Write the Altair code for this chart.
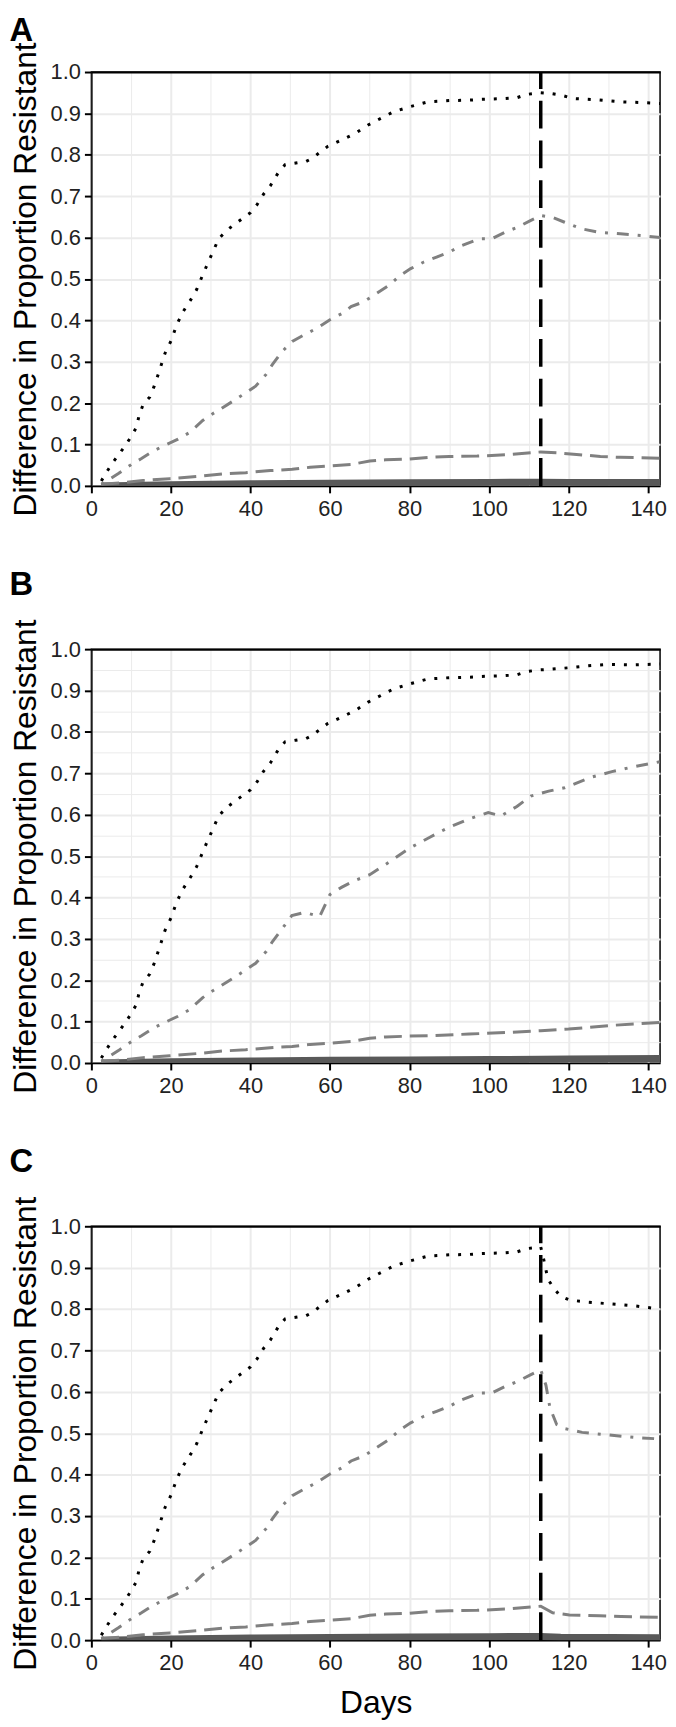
import altair as alt
import pandas as pd

# ---------------- data ----------------
# Dotted black series (panels A & C share the first 113 days; B very close)
dotted_days_early = [2.5, 4, 5.5, 7, 8.7, 10, 11.3, 12, 13, 14.7, 15.8, 17, 18.5, 20, 21.5,
                     23, 25, 26.5, 28, 29.6, 31, 32, 34, 36, 38, 40, 41.7, 43.3, 45, 47,
                     48.7, 51.4, 54, 55.6, 57.2, 59.4, 63, 66.4, 69.6, 72.8, 76, 80, 84.6,
                     90, 95, 98, 101, 104, 107, 109.5, 113]
dotted_vals_early = [0.012, 0.036, 0.058, 0.077, 0.100, 0.119, 0.141, 0.170, 0.196, 0.215,
                     0.241, 0.275, 0.320, 0.350, 0.390, 0.420, 0.450, 0.475, 0.510, 0.545,
                     0.575, 0.597, 0.617, 0.632, 0.646, 0.660, 0.680, 0.705, 0.725, 0.757,
                     0.776, 0.780, 0.784, 0.792, 0.804, 0.820, 0.836, 0.852, 0.872, 0.888,
                     0.904, 0.916, 0.928, 0.931, 0.932, 0.934, 0.935, 0.936, 0.938, 0.946, 0.950]
dotted_days_A = [115.6, 118.2, 121.1, 127, 133, 139, 143]
dotted_vals_A = [0.948, 0.944, 0.936, 0.933, 0.928, 0.926, 0.924]
dotted_days_B = [115, 120, 125, 130, 136, 143]
dotted_vals_B = [0.951, 0.955, 0.960, 0.963, 0.962, 0.964]
dotted_days_C = [113.7, 114.8, 116.4, 118, 120.2, 124.5, 129.8, 136.3, 143]
dotted_vals_C = [0.922, 0.872, 0.849, 0.831, 0.822, 0.817, 0.813, 0.808, 0.800]

# Dot-dash grey series
dotdash_days_early = [2.5, 3.1, 6.8, 10.1, 12.6, 15.5, 18.9, 21.8, 24.7, 28, 30.1, 33, 36.3,
                      38.8, 41.3, 44, 45.5, 48, 50.5, 53.5, 56.7, 59.9, 63.1, 65.3, 68.5,
                      71.7, 74.9, 77.7, 80.3, 83.6, 86.8, 90, 93.2, 97.5, 100.7, 104, 107.2,
                      110.4, 113]
dotdash_vals_early = [0.004, 0.007, 0.030, 0.052, 0.066, 0.084, 0.100, 0.113, 0.129, 0.158,
                      0.172, 0.189, 0.209, 0.225, 0.241, 0.270, 0.293, 0.325, 0.349, 0.365,
                      0.381, 0.401, 0.417, 0.433, 0.445, 0.465, 0.485, 0.509, 0.525, 0.541,
                      0.553, 0.565, 0.581, 0.597, 0.597, 0.613, 0.625, 0.641, 0.653]
dotdash_days_A = [115.9, 119, 123.3, 127.6, 133, 138.3, 143]
dotdash_vals_A = [0.649, 0.637, 0.621, 0.613, 0.609, 0.605, 0.600]
dotdash_days_B = [50.4, 53.6, 57.4, 60, 63, 66, 70, 74, 80, 85, 90, 95, 99.8, 103, 107,
                  110.5, 115, 119, 125.5, 130.9, 136, 143]
dotdash_vals_B = [0.356, 0.364, 0.354, 0.407, 0.425, 0.440, 0.455, 0.480, 0.519, 0.545,
                  0.570, 0.590, 0.605, 0.597, 0.620, 0.645, 0.657, 0.665, 0.690, 0.704,
                  0.715, 0.728]
dotdash_days_C = [114.3, 115.3, 117, 119.1, 123.4, 129.8, 136.3, 143]
dotdash_vals_C = [0.616, 0.562, 0.521, 0.511, 0.502, 0.496, 0.490, 0.486]

# Long-dashed grey series
dashed_days_early = [2.5, 7.2, 13, 19.7, 28, 33, 38.8, 45, 50.5, 55, 60, 65.4, 70, 74, 80,
                     85, 90, 97, 104, 109, 113]
dashed_vals_early = [0.004, 0.007, 0.013, 0.0175, 0.024, 0.029, 0.032, 0.037, 0.040, 0.045,
                     0.048, 0.052, 0.060, 0.063, 0.065, 0.069, 0.071, 0.072, 0.075, 0.079,
                     0.082]
dashed_days_A = [117, 122, 128, 133, 138, 143]
dashed_vals_A = [0.080, 0.076, 0.071, 0.069, 0.068, 0.067]
dashed_days_B = [85, 95, 105, 113, 120, 131, 143]
dashed_vals_B = [0.066, 0.070, 0.074, 0.078, 0.082, 0.091, 0.098]
dashed_days_C = [116, 120.2, 127.8, 133.2, 143]
dashed_vals_C = [0.066, 0.061, 0.059, 0.057, 0.055]

# Thick solid dark-grey series
solid_days_early = [2.5, 20, 40, 60, 80, 100, 113]
solid_vals_early = [0.000, 0.003, 0.005, 0.0065, 0.0075, 0.0085, 0.009]
solid_days_A = [120, 143]
solid_vals_A = [0.0085, 0.008]
solid_days_B = [120, 143]
solid_vals_B = [0.0095, 0.011]
solid_days_C = [118, 143]
solid_vals_C = [0.007, 0.006]

treatment_stop_day = 113
x_ticks = list(range(0, 141, 10))
y_ticks = [round(i * 0.05, 2) for i in range(21)]


def rows(panel, series, days, vals):
    return [{"panel": panel, "series": series, "day": d, "value": v}
            for d, v in zip(days, vals)]


records = []
# Panel A
records += rows("A", "solid", solid_days_early + solid_days_A, solid_vals_early + solid_vals_A)
records += rows("A", "dashed", dashed_days_early + dashed_days_A, dashed_vals_early + dashed_vals_A)
records += rows("A", "dotdash", dotdash_days_early + dotdash_days_A, dotdash_vals_early + dotdash_vals_A)
records += rows("A", "dotted", dotted_days_early + dotted_days_A, dotted_vals_early + dotted_vals_A)
# Panel B
records += rows("B", "solid", solid_days_early + solid_days_B, solid_vals_early + solid_vals_B)
bd = [(d, v) for d, v in zip(dashed_days_early, dashed_vals_early) if d <= 80]
records += rows("B", "dashed", [d for d, _ in bd] + dashed_days_B, [v for _, v in bd] + dashed_vals_B)
bdd = [(d, v) for d, v in zip(dotdash_days_early, dotdash_vals_early) if d < 50]
records += rows("B", "dotdash", [d for d, _ in bdd] + dotdash_days_B, [v for _, v in bdd] + dotdash_vals_B)
records += rows("B", "dotted", dotted_days_early + dotted_days_B, dotted_vals_early + dotted_vals_B)
# Panel C
records += rows("C", "solid", solid_days_early + solid_days_C, solid_vals_early + solid_vals_C)
records += rows("C", "dashed", dashed_days_early + dashed_days_C, dashed_vals_early + dashed_vals_C)
records += rows("C", "dotdash", dotdash_days_early + dotdash_days_C, dotdash_vals_early + dotdash_vals_C)
records += rows("C", "dotted", dotted_days_early + dotted_days_C, dotted_vals_early + dotted_vals_C)

df = pd.DataFrame(records)
vline_df = pd.DataFrame({"panel": ["A", "C"], "day": [treatment_stop_day] * 2,
                         "y0": [0.0, 0.0], "y1": [1.0, 1.0]})

FONT = "Liberation Sans"
W, H = 573, 417

styles = {
    "solid": dict(color="#595959", strokeWidth=7),
    "dashed": dict(color="#808080", strokeWidth=3, strokeDash=[18, 8]),
    "dotdash": dict(color="#808080", strokeWidth=3, strokeDash=[3, 9, 12, 9]),
    "dotted": dict(color="black", strokeWidth=3, strokeDash=[3, 9]),
}

X_MAJOR = "datum.value % 20 === 0"
Y_MAJOR = "round(datum.value * 100) % 10 === 0"


def make_panel(name, show_vline, show_xtitle, title_offset):
    x_axis = alt.Axis(
        values=x_ticks,
        labelExpr=X_MAJOR + " ? datum.label : ''",
        gridWidth={"condition": {"test": X_MAJOR, "value": 2}, "value": 1},
        tickOpacity={"condition": {"test": X_MAJOR, "value": 1}, "value": 0},
        labelFlush=False,
        labelOverlap=False,
        labelPadding=6,
        titlePadding=14,
        titleFontSize=32,
    )
    y_axis = alt.Axis(
        values=y_ticks,
        labelExpr=Y_MAJOR + " ? format(datum.value, '.1f') : ''",
        gridWidth={"condition": {"test": Y_MAJOR, "value": 2}, "value": 1},
        gridColor={"condition": {"test": "datum.value >= 1", "value": "black"}, "value": "#ebebeb"},
        tickOpacity={"condition": {"test": Y_MAJOR, "value": 1}, "value": 0},
        labelOverlap=False,
        labelFlush=False,
        labelPadding=4,
        titlePadding=8,
        titleFontSize=32,
    )
    xenc = alt.X("day:Q", scale=alt.Scale(domain=[0, 143], nice=False, zero=False),
                 axis=x_axis, title="Days" if show_xtitle else None)
    yenc = alt.Y("value:Q", scale=alt.Scale(domain=[0, 1], nice=False),
                 axis=y_axis, title="Difference in Proportion Resistant")
    layers = []
    for s in ["solid", "dashed", "dotdash", "dotted"]:
        layers.append(
            alt.Chart(df)
            .transform_filter((alt.datum.panel == name) & (alt.datum.series == s))
            .mark_line(clip=True, **styles[s])
            .encode(x=xenc, y=yenc, order="day:Q")
        )
    if show_vline:
        layers.append(
            alt.Chart(vline_df)
            .transform_filter(alt.datum.panel == name)
            .mark_rule(color="black", strokeWidth=3.5, strokeDash=[28, 12], clip=True)
            .encode(x="day:Q", y="y0:Q", y2="y1:Q")
        )
    return alt.layer(*layers).properties(
        width=W, height=H,
        title=alt.TitleParams(name, anchor="start", frame="bounds", fontSize=33,
                              fontWeight="bold", font=FONT, color="black",
                              offset=title_offset),
    )


chart = alt.vconcat(
    make_panel("A", True, False, -6.5),
    make_panel("B", False, False, 17),
    make_panel("C", True, True, 17),
    spacing=47.5,
).properties(padding=0, background="white").configure_view(
    stroke="black", strokeWidth=1.5
).configure_axis(
    labelFont=FONT, titleFont=FONT, labelFontSize=22,
    titleFontWeight="normal", labelColor="#222222", titleColor="black",
    domainColor="black", domainWidth=1.5, tickColor="black", tickWidth=2, tickSize=7,
    gridColor="#ebebeb",
)

chart.save("out.html", embed_options={"renderer": "svg", "actions": False})
